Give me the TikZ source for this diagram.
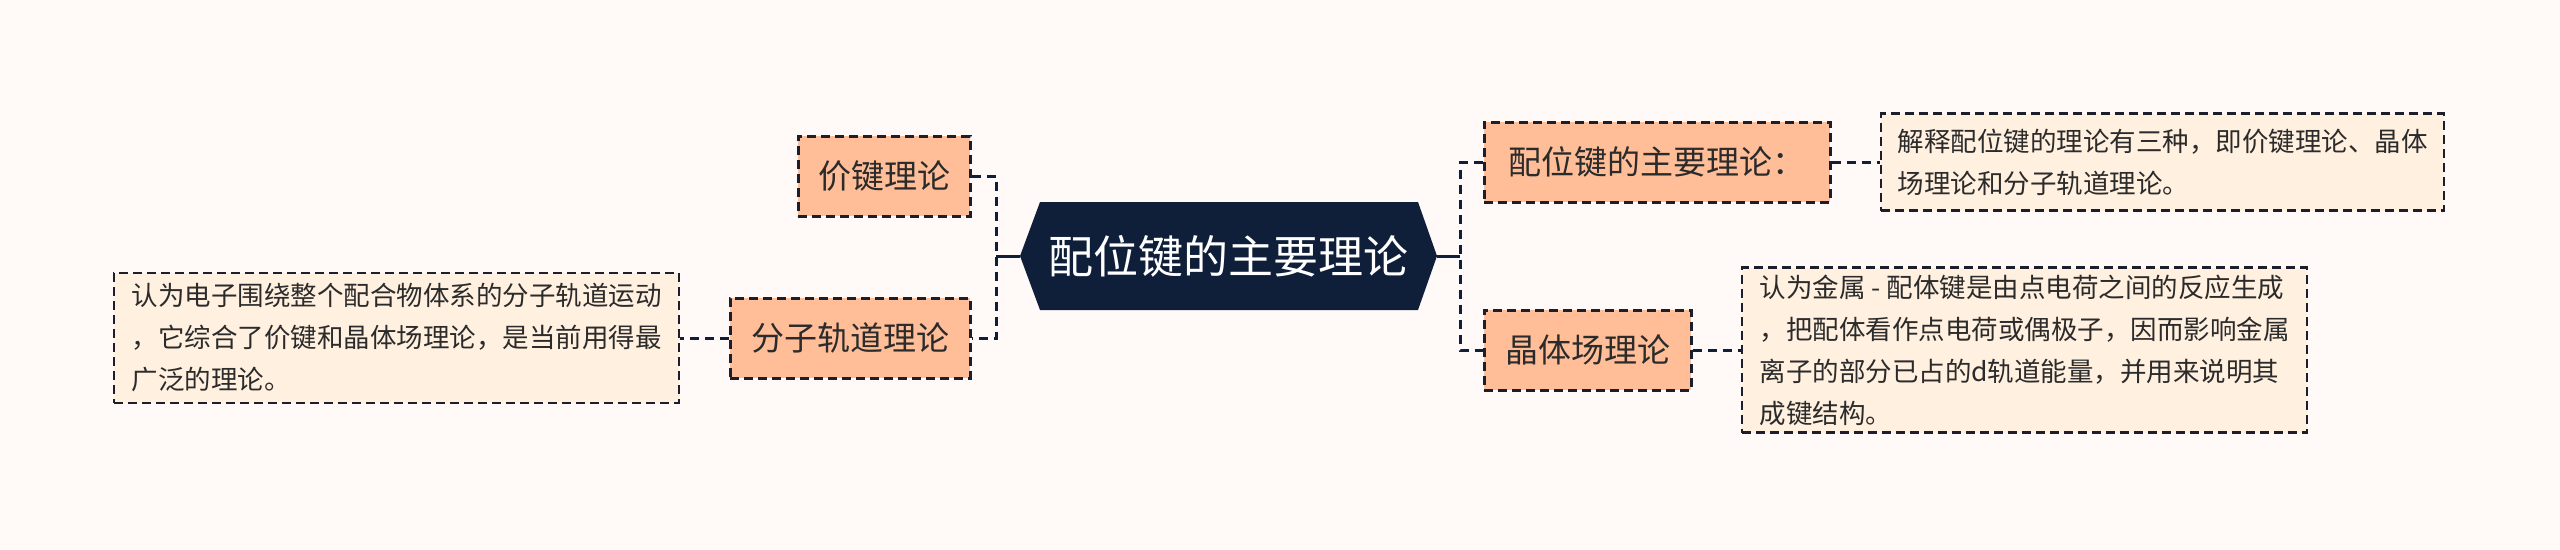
\documentclass[tikz,border=0pt]{standalone}
\usepackage{fontspec}
\setmainfont{Noto Sans CJK SC}
\definecolor{bgc}{HTML}{FFFAF8}
\definecolor{navy}{HTML}{0F1F3A}
\definecolor{topicfill}{HTML}{FFBE98}
\definecolor{descfill}{HTML}{FFF0E0}
\definecolor{edge}{HTML}{1C1E2C}
\definecolor{txt}{HTML}{2B2B2B}
\begin{document}
\begin{tikzpicture}[x=1pt,y=-1pt,
  topicbox/.style={draw=edge, fill=topicfill, line width=3pt, dash pattern=on 9pt off 5pt,
    text=txt, font=\fontsize{33}{40}\selectfont, inner sep=0pt, minimum height=80pt},
  descbox/.style={draw=edge, fill=descfill, line width=2.6pt, dash pattern=on 9pt off 5pt,
    text=txt, font=\fontsize{26.5}{42}\selectfont, align=left, inner sep=0pt},
  conn/.style={draw=navy, line width=3pt, dash pattern=on 9pt off 6pt},
  solidconn/.style={draw=navy, line width=3pt}]
\useasboundingbox[fill=bgc] (0,0) rectangle (2560,549);
% root hexagon
\fill[navy] (1020,256) -- (1040,202) -- (1418,202) -- (1437,256) -- (1418,310) -- (1040,310) -- cycle;
\coordinate (rootL) at (1020,256);
\coordinate (rootR) at (1437,256);
\node[text=white, font=\fontsize{45}{50}\selectfont] (root) at (1228,256) {配位键的主要理论};
% left topics
\node[topicbox, minimum width=172pt] (jj) at (884,176) {价键理论};
\node[topicbox, minimum width=240pt] (fz) at (850,338) {分子轨道理论};
\node[descbox, minimum width=565pt, minimum height=130pt] (fzd) at (396.5,338)
  {认为电子围绕整个配合物体系的分子轨道运动\\，它综合了价键和晶体场理论，是当前用得最\\广泛的理论。};
% right topics
\node[topicbox, minimum width=346pt] (pw) at (1657,162) {配位键的主要理论：};
\node[descbox, minimum width=563pt, minimum height=97pt] (pwd) at (2162.5,162)
  {解释配位键的理论有三种，即价键理论、晶体\\场理论和分子轨道理论。};
\node[topicbox, minimum width=207pt] (jt) at (1587.5,350) {晶体场理论};
\node[descbox, minimum width=565pt, minimum height=165pt] (jtd) at (2024.5,350)
  {认为金属 - 配体键是由点电荷之间的反应生成\\，把配体看作点电荷或偶极子，因而影响金属\\离子的部分已占的d轨道能量，并用来说明其\\成键结构。};
% connectors
\coordinate (ls) at (996,256);
\coordinate (rs) at (1460,256);
\draw[solidconn] (rootL) -- (ls);
\draw[solidconn] (rootR) -- (rs);
\draw[conn] (jj.east) -- (jj.east -| ls) -- (fz.east -| ls) -- (fz.east);
\draw[conn] (pw.west) -- (pw.west -| rs) -- (jt.west -| rs) -- (jt.west);
\draw[conn] (fz.west) -- (fzd.east);
\draw[conn] (pw.east) -- (pwd.west);
\draw[conn] (jt.east) -- (jtd.west);
\end{tikzpicture}
\end{document}
